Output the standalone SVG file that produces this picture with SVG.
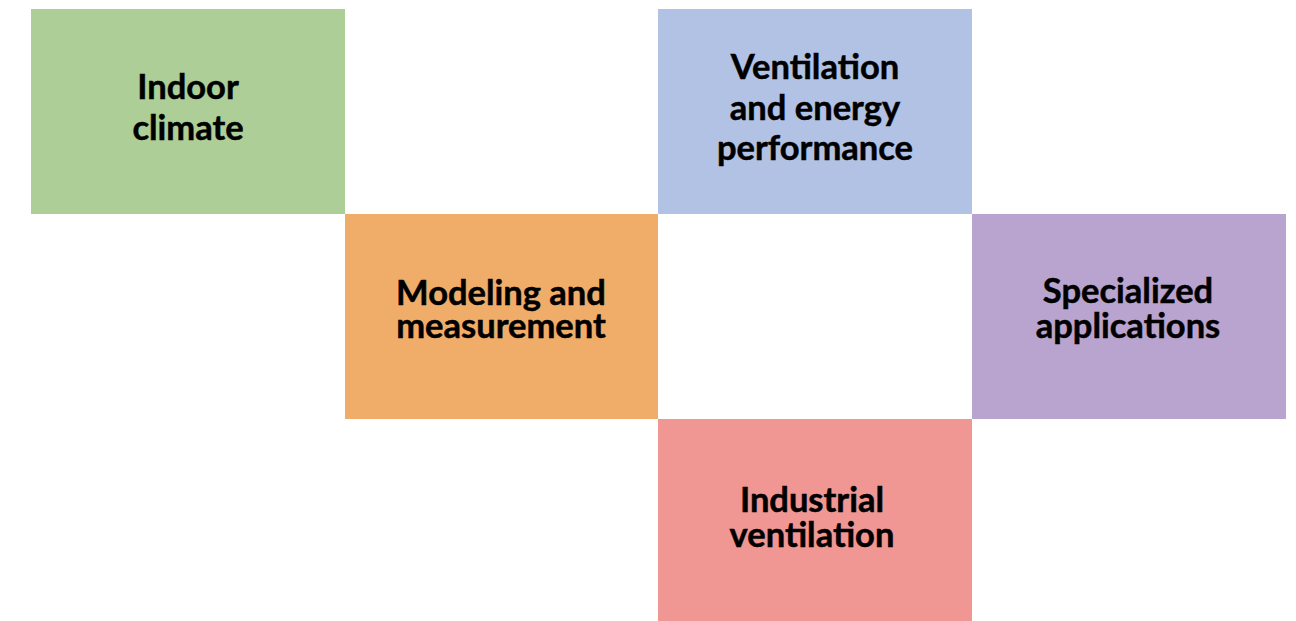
<svg xmlns="http://www.w3.org/2000/svg" width="1296" height="621" viewBox="0 0 1296 621">
<style>
.t{font-family:Lato,"Noto Sans",sans-serif;font-weight:700;font-size:34.5px;fill:#000;stroke:#000;stroke-width:0.5px;text-anchor:middle}
</style>
<rect width="1296" height="621" fill="#fff"/>
<g id="indoor-climate">
<rect x="31" y="9" width="314" height="205" fill="#ADCE96"/>
<text class="t" x="188" y="99">Indoor</text>
<text class="t" x="188" y="140">climate</text>
</g>
<g id="ventilation-energy">
<rect x="658" y="9" width="314" height="205" fill="#B2C2E4"/>
<text class="t" x="815" y="79">Ventilation</text>
<text class="t" x="815" y="120">and energy</text>
<text class="t" x="815" y="160">performance</text>
</g>
<g id="modeling-measurement">
<rect x="345" y="214" width="313" height="205" fill="#F0AD69"/>
<text class="t" x="501" y="305">Modeling and</text>
<text class="t" x="501" y="338">measurement</text>
</g>
<g id="specialized-applications">
<rect x="972" y="214" width="314" height="205" fill="#B9A3CF"/>
<text class="t" x="1128" y="303">Specialized</text>
<text class="t" x="1128" y="338">applications</text>
</g>
<g id="industrial-ventilation">
<rect x="658" y="419" width="314" height="202" fill="#F09693"/>
<text class="t" x="812" y="512">Industrial</text>
<text class="t" x="812" y="547">ventilation</text>
</g>
<g id="connectors"></g>
</svg>
